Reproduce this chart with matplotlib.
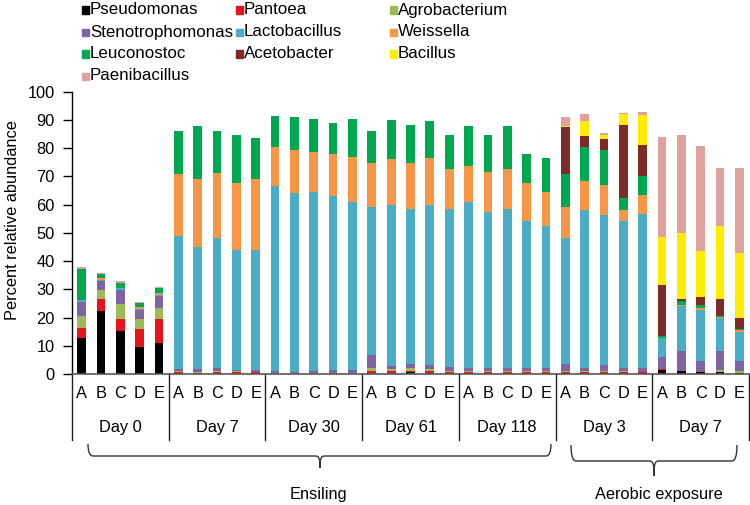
import numpy as np
import matplotlib
matplotlib.use("Agg")
import matplotlib.pyplot as plt
from matplotlib.patches import PathPatch, Rectangle
from matplotlib.path import Path
from matplotlib.transforms import blended_transform_factory

plt.rcParams["font.family"] = ["Liberation Sans", "DejaVu Sans"]

samples = ["A", "B", "C", "D", "E"]
groups = ["Day 0", "Day 7", "Day 30", "Day 61", "Day 118", "Day 3", "Day 7"]
phases = ["Ensiling", "Aerobic exposure"]

taxa = ["Pseudomonas", "Pantoea", "Agrobacterium", "Stenotrophomonas",
        "Lactobacillus", "Weissella", "Leuconostoc", "Acetobacter",
        "Bacillus", "Paenibacillus"]
colors = ["#000000", "#E8141C", "#9BBB59", "#8064A2", "#4BACC6",
          "#F79646", "#00A650", "#7D2B27", "#FFED00", "#E0A09C"]

# percent relative abundance, 7 groups x 5 samples (A-E)
pseudomonas = [12.7, 22.3, 15.4, 9.6, 11.1,   0, 0, 0, 0, 0,
               0, 0, 0, 0, 0,   0, 0, 0.6, 0, 0,   0, 0, 0, 0, 0,
               0, 0, 0, 0, 0,   1.5, 1.2, 0.7, 0.7, 0.5]
pantoea = [3.7, 4.2, 4.2, 6.2, 8.5,   0.6, 0.2, 0.6, 0.6, 0.6,
           0.1, 0.1, 0.1, 0.1, 0.1,   1.2, 1.2, 0.6, 1.2, 0.6,
           0.6, 0.6, 0.6, 0.6, 0.6,   0.6, 0.6, 0.6, 0.6, 0.6,
           0.2, 0, 0, 0, 0]
agrobacterium = [4.2, 3.3, 5.2, 3.8, 3.8,   0.5, 0.6, 0.6, 0.3, 0.2,
                 0.3, 0.2, 0.3, 0.3, 0.3,   1.0, 0.5, 1.0, 0.5, 0.6,
                 0.6, 0.6, 0.6, 0.6, 0.6,   0.6, 0.6, 0.6, 0.6, 0.2,
                 0, 0, 0, 0.7, 0.7]
stenotrophomonas = [4.9, 3.2, 5.0, 3.2, 4.1,   0.5, 1.0, 1.0, 0.4, 0.5,
                    0.6, 0.5, 0.6, 1.0, 1.0,   4.7, 1.0, 1.2, 1.6, 1.4,
                    1.0, 1.0, 1.0, 1.0, 1.0,   2.4, 1.0, 2.0, 1.0, 1.2,
                    4.3, 6.8, 4.0, 6.6, 3.5]
lactobacillus = [0.6, 0.3, 0.5, 0.4, 0.5,   47.4, 43.2, 45.8, 42.6, 42.8,
                 65.5, 63.3, 63.4, 61.5, 59.5,   52.1, 57.2, 55.2, 56.6, 56.0,
                 58.6, 55.3, 56.4, 52.0, 50.4,   44.4, 55.8, 53.2, 52.0, 54.6,
                 6.9, 16.0, 18.1, 11.8, 10.2]
weissella = [0.2, 0.8, 0.3, 0.4, 0.7,   21.8, 23.9, 23.3, 23.7, 24.8,
             13.8, 15.4, 14.4, 14.9, 15.9,   15.7, 16.2, 16.1, 16.7, 13.9,
             12.8, 13.9, 13.9, 13.5, 11.8,   11.0, 10.2, 10.7, 3.8, 6.9,
             0, 0.6, 0.6, 0.3, 0.7]
leuconostoc = [11.0, 1.3, 1.8, 1.4, 1.6,   15.4, 19.0, 14.9, 17.0, 14.7,
               11.2, 11.6, 11.6, 11.1, 13.6,   11.5, 13.9, 13.6, 12.9, 12.1,
               14.3, 13.2, 15.4, 10.4, 12.1,   11.8, 12.1, 12.2, 4.3, 6.6,
               0.6, 1.1, 1.2, 0.6, 0.5]
acetobacter = [0, 0, 0, 0, 0,   0, 0, 0, 0, 0,   0, 0, 0, 0, 0,
               0, 0, 0, 0, 0,   0, 0, 0, 0, 0,   16.6, 3.9, 4.1, 26.0, 11.0,
               18.1, 1.0, 2.5, 5.8, 3.6]
bacillus = [0, 0, 0, 0, 0,   0, 0, 0, 0, 0,   0, 0, 0, 0, 0,
            0, 0, 0, 0, 0,   0, 0, 0, 0, 0,   0.6, 5.3, 1.2, 3.8, 10.7,
            16.9, 23.1, 16.3, 26.1, 23.1]
paenibacillus = [0.6, 0.5, 0.5, 0.4, 0.5,   0, 0, 0, 0, 0,
                 0, 0, 0, 0, 0,   0, 0, 0, 0, 0,   0, 0, 0, 0, 0,
                 3.2, 2.6, 0.6, 0.5, 1.0,   35.6, 34.9, 37.5, 20.3, 30.1]

abundance = [pseudomonas, pantoea, agrobacterium, stenotrophomonas,
             lactobacillus, weissella, leuconostoc, acetobacter,
             bacillus, paenibacillus]

W, H = 750, 505


def fx(px):
    return px / W


def fy(py):
    return 1 - py / H


fig = plt.figure(figsize=(W / 100, H / 100), dpi=100)
ax = fig.add_axes([fx(72), fy(374), fx(677), (374 - 91.7) / H])

x = np.arange(len(groups) * len(samples))
bottom = np.zeros(len(x))
for name, color, vals in zip(taxa, colors, abundance):
    vals = np.asarray(vals, dtype=float)
    ax.bar(x, vals, width=0.45, bottom=bottom, color=color,
           edgecolor="none", label=name)
    bottom += vals

ax.set_xlim(-0.5, len(x) - 0.5)
ax.set_ylim(0, 100)
ax.set_yticks(np.arange(0, 101, 10))
ax.set_xticks(x)
ax.set_xticklabels(samples * len(groups))
ax.tick_params(axis="x", length=0, pad=9, labelsize=11.8)
ax.tick_params(axis="y", direction="out", length=6.5, width=1,
               pad=6, labelsize=11.8)
for side in ("top", "right"):
    ax.spines[side].set_visible(False)
ax.spines["left"].set_linewidth(1)
ax.spines["bottom"].set_color("#595959")
ax.spines["bottom"].set_linewidth(1.2)

fig.text(fx(13), 0.564, "Percent relative abundance", rotation=90,
         ha="center", va="center", fontsize=11.8)

# group separators and labels under the axis
trans = blended_transform_factory(ax.transData, ax.transAxes)
n = len(samples)
for i in range(len(groups) + 1):
    b = i * n - 0.5
    ax.plot([b, b], [0, -0.234], transform=trans, color="#222222",
            lw=1, clip_on=False)
for i, g in enumerate(groups):
    ax.text(i * n + (n - 1) / 2, -0.191, g, transform=trans,
            ha="center", va="center", fontsize=11.8)


def brace(x0, x1, xtip, ytop, yline, ytip, r=5):
    verts = [(x0, ytop), (x0, yline), (x0 + r, yline),
             (xtip - r, yline),
             (xtip - 1, yline), (xtip, yline + 2), (xtip, ytip),
             (xtip, yline + 2), (xtip + 1, yline), (xtip + r, yline),
             (x1 - r, yline),
             (x1, yline), (x1, ytop)]
    codes = [Path.MOVETO, Path.CURVE3, Path.CURVE3, Path.LINETO,
             Path.CURVE4, Path.CURVE4, Path.CURVE4,
             Path.CURVE4, Path.CURVE4, Path.CURVE4, Path.LINETO,
             Path.CURVE3, Path.CURVE3]
    verts = [(fx(a), fy(b)) for a, b in verts]
    fig.add_artist(PathPatch(Path(verts, codes), transform=fig.transFigure,
                             fill=False, edgecolor="#333333", lw=1))


brace(88, 551, 320, 444, 456, 468)
brace(571, 737, 654, 445, 461, 476)
fig.text(fx(318), fy(494), phases[0], ha="center", va="center", fontsize=11.8)
fig.text(fx(659), fy(494), phases[1], ha="center", va="center", fontsize=11.8)

# legend, row-major in three columns
col_x = [85, 239, 393]
row_y = [10, 32, 54, 76]
for i, (name, color) in enumerate(zip(taxa, colors)):
    cx, cy = col_x[i % 3], row_y[i // 3]
    fig.add_artist(Rectangle((fx(cx - 3.5), fy(cy + 3.5)), 7 / W, 7 / H,
                             transform=fig.transFigure, color=color))
    fig.text(fx(cx + 5), fy(cy), name, ha="left", va="center",
             fontsize=12.2)

fig.savefig("out.png", dpi=100)
